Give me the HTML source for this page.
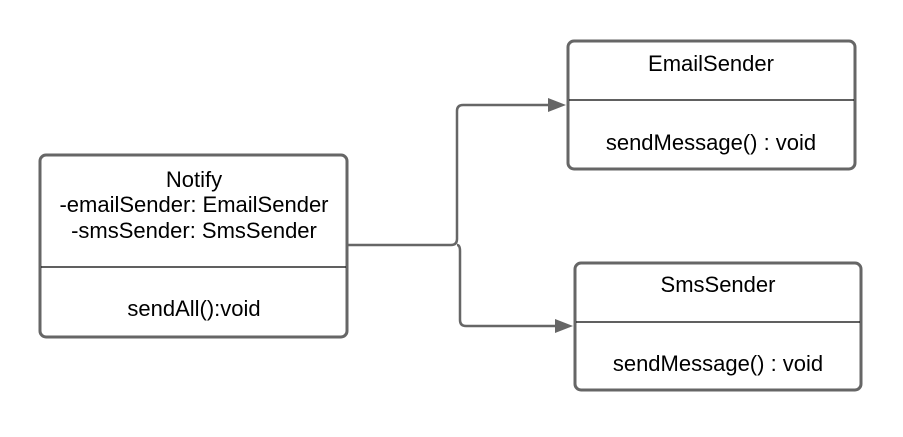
<!DOCTYPE html>
<html><head><style>body{margin:0;background:#fff}</style></head><body>
<svg width="903" height="432" xmlns="http://www.w3.org/2000/svg" font-family="Liberation Sans, sans-serif" font-size="22" fill="#000">
<g fill="#fff" stroke="#666" stroke-width="3">
<rect x="40" y="155" width="307" height="182" rx="6"/>
<rect x="568" y="41" width="287" height="128" rx="6"/>
<rect x="575" y="263" width="286" height="127" rx="6"/>
</g>
<g stroke="#000" stroke-width="1.3">
<line x1="41" y1="267" x2="346" y2="267"/>
<line x1="569" y1="100" x2="854" y2="100"/>
<line x1="576" y1="322" x2="860" y2="322"/>
</g>
<g fill="none" stroke="#666" stroke-width="2.5">
<path d="M348 245 H451 Q457 245 457 239 V111 Q457 105 463 105 H552"/>
<path d="M457 245 Q460 245 460 251 V320 Q460 326 466 326 H559"/>
</g>
<g fill="#666">
<polygon points="566,105 548,98 548,112"/>
<polygon points="573,326 555,319 555,333"/>
</g>
<g text-anchor="middle">
<text x="194" y="187">Notify</text>
<text x="194" y="212">-emailSender: EmailSender</text>
<text x="194" y="238">-smsSender: SmsSender</text>
<text x="194" y="316">sendAll():void</text>
<text x="711" y="71">EmailSender</text>
<text x="711" y="150">sendMessage() : void</text>
<text x="718" y="292">SmsSender</text>
<text x="718" y="371">sendMessage() : void</text>
</g>
</svg>
</body></html>
